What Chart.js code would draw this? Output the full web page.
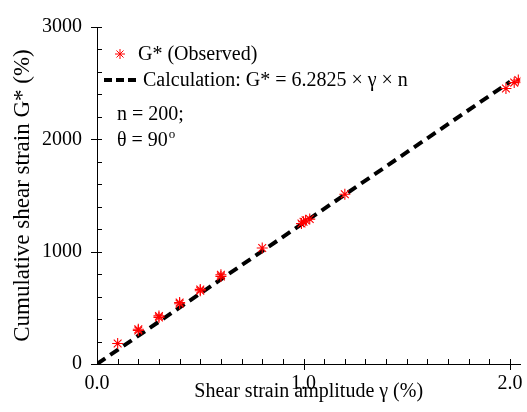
<!DOCTYPE html>
<html>
<head>
<meta charset="utf-8">
<script src="https://cdn.jsdelivr.net/npm/chart.js@4.4.1/dist/chart.umd.min.js"></script>
<style>
    html, body { margin: 0; padding: 0; background: #fff; }
    #wrap { width: 527px; height: 412px; }
</style>
</head>
<body>
<div id="wrap"><canvas id="strain-chart"></canvas></div>
<script>
// observed cumulative shear strain vs amplitude (n = 200 cycles)
const obsGamma = [0.10, 0.20, 0.20, 0.30, 0.30, 0.40, 0.40, 0.50, 0.50, 0.60, 0.60, 0.80, 0.99, 1.00, 1.01, 1.03, 1.20, 1.98, 2.02, 2.04];
const obsG = [183, 298, 310, 415, 428, 536, 548, 652, 664, 780, 795, 1032, 1250, 1266, 1280, 1290, 1511, 2452, 2505, 2528];

// G* = 6.2825 x gamma x n, n = 200
const calcGamma = [0, 2.0];
const calcG = [0, 2513];

const xTickLabels = ["0.0", "1.0", "2.0"];
const yTickLabels = ["0", "1000", "2000", "3000"];
const xMinorStep = 0.1;
const yMinorStep = 200;

const serif = "'Liberation Serif', 'Times New Roman', serif";

function toPoints(xs, ys) {
    return xs.map((x, i) => ({ x: x, y: ys[i] }));
}

// inward minor ticks, crossing major ticks
const tickMarks = {
    id: "tickMarks",
    afterDraw(chart) {
        const ctx = chart.ctx;
        const xs = chart.scales.x;
        const ys = chart.scales.y;
        const base = Math.round(ys.getPixelForValue(0));
        const left = Math.round(xs.getPixelForValue(0));
        ctx.save();
        ctx.fillStyle = "#000";
        const nx = Math.round(2.0 / xMinorStep);
        for (let i = 1; i <= nx; i++) {
            const v = i * xMinorStep;
            const px = Math.round(xs.getPixelForValue(v));
            const major = xTickLabels.includes(v.toFixed(1));
            ctx.fillRect(px, base - 5, 1, major ? 11 : 5);
        }
        const ny = Math.round(3000 / yMinorStep);
        for (let i = 0; i <= ny; i++) {
            const v = i * yMinorStep;
            const py = Math.round(ys.getPixelForValue(v));
            const major = yTickLabels.includes(String(v));
            ctx.fillRect(major ? left - 6 : left, py, major ? 11 : 5, 1);
        }
        ctx.restore();
    }
};

// legend and test conditions inside the plot
const noteBox = {
    id: "noteBox",
    afterDraw(chart) {
        const ctx = chart.ctx;
        const ds = chart.data.datasets;
        ctx.save();
        ctx.setLineDash([]);
        ctx.lineDashOffset = 0;
        ctx.strokeStyle = ds[0].borderColor;
        ctx.fillStyle = ds[0].borderColor;
        Chart.helpers.drawPoint(ctx, { pointStyle: "star", radius: 5, borderWidth: 1.2 }, 120, 54);

        ctx.strokeStyle = "#000";
        ctx.lineWidth = 4;
        ctx.setLineDash([8, 4]);
        ctx.beginPath();
        ctx.moveTo(104, 80);
        ctx.lineTo(140, 80);
        ctx.stroke();
        ctx.setLineDash([]);

        ctx.fillStyle = "#000";
        ctx.font = "20px " + serif;
        ctx.textBaseline = "middle";
        ctx.textAlign = "left";
        ctx.fillText(ds[0].label, 138, 55);
        ctx.fillText(ds[1].label, 143, 81);
        ctx.fillText("n = 200;", 117, 115);
        ctx.fillText("\u03b8 = 90", 117, 141);
        const w = ctx.measureText("\u03b8 = 90").width;
        ctx.font = "13px " + serif;
        ctx.fillText("o", 117 + w + 1, 135);
        ctx.restore();
    }
};

// software-backed context so the thin tick rects survive in the final frame
const strainCtx = document.getElementById("strain-chart").getContext("2d", { willReadFrequently: true });

const strainChart = new Chart(strainCtx, {
    type: "scatter",
    data: {
        datasets: [{
            label: "G* (Observed)",
            data: toPoints(obsGamma, obsG),
            pointStyle: "star",
            pointRadius: 5.5,
            pointBorderWidth: 1.1,
            borderColor: "#ff0000",
            backgroundColor: "#ff0000",
            showLine: false,
            order: 1,
        }, {
            label: "Calculation: G* = 6.2825 \u00d7 \u03b3 \u00d7 n",
            data: toPoints(calcGamma, calcG),
            showLine: true,
            borderColor: "#000",
            borderWidth: 4,
            borderDash: [10, 6],
            pointRadius: 0,
            order: 2,
        }],
    },
    options: {
        responsive: true,
        maintainAspectRatio: false,
        animation: false,
        layout: { padding: { top: 14, right: 0, left: 0, bottom: 0 } },
        plugins: {
            legend: { display: false },
            tooltip: { enabled: false },
        },
        scales: {
            x: {
                type: "linear",
                min: 0,
                max: 2.05,
                afterFit: s => { s.height = 48; s.paddingLeft = 0; s.paddingRight = 0; },
                grid: { display: false, drawTicks: false },
                border: { display: true, color: "#000", width: 1 },
                ticks: {
                    stepSize: xMinorStep,
                    maxTicksLimit: 100,
                    includeBounds: false,
                    autoSkip: false,
                    maxRotation: 0,
                    padding: 8,
                    color: "#000",
                    font: { family: serif, size: 20 },
                    callback: v => {
                        const lbl = Number(v).toFixed(1);
                        return xTickLabels.includes(lbl) && Math.abs(v - Number(lbl)) < 1e-6 ? lbl : "";
                    },
                },
                title: {
                    display: true,
                    text: "Shear strain amplitude \u03b3 (%)",
                    color: "#000",
                    font: { family: serif, size: 20 },
                    padding: { top: 0, bottom: 8 },
                },
            },
            y: {
                type: "linear",
                min: 0,
                max: 3000,
                afterFit: s => { s.width = 97; },
                grid: { display: false, drawTicks: false },
                border: { display: true, color: "#000", width: 1 },
                ticks: {
                    stepSize: yMinorStep,
                    maxTicksLimit: 100,
                    autoSkip: false,
                    padding: 15,
                    color: "#000",
                    font: { family: serif, size: 20 },
                    callback: v => yTickLabels.includes(String(v)) ? String(v) : "",
                },
                title: {
                    display: true,
                    text: "Cumulative shear strain G* (%)",
                    color: "#000",
                    font: { family: serif, size: 23 },
                    padding: { top: 9, bottom: 0 },
                },
            },
        },
    },
    plugins: [tickMarks, noteBox],
});
</script>
</body>
</html>
